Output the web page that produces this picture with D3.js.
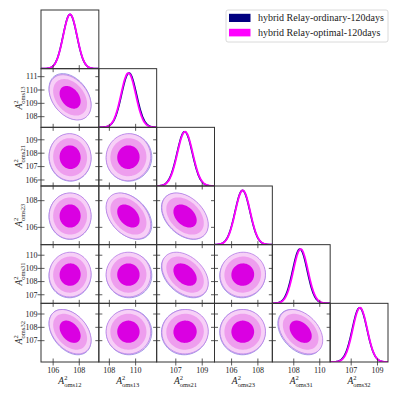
<!DOCTYPE html>
<html>
<head>
<meta charset="utf-8">
<script src="https://cdn.jsdelivr.net/npm/d3@7"></script>
<style>
  body { margin: 0; background: #fff; }
  text { font-family: "Liberation Serif", "Times New Roman", serif; fill: #222; }
</style>
</head>
<body>
<div id="chart"></div>
<script>
// parameter names (subscripts of A^2)
const names = ["oms12", "oms13", "oms21", "oms23", "oms31", "oms32"];
const series = ["hybrid Relay-ordinary-120days", "hybrid Relay-optimal-120days"];

// marginal peak positions / widths
const meanOrd = [107.29, 109.50, 107.67, 106.83, 108.47, 107.64];
const sdOrd   = [0.53, 0.57, 0.58, 0.57, 0.56, 0.56];
const meanOpt = [107.30, 109.45, 107.70, 106.85, 108.53, 107.67];
const sdOpt   = [0.53, 0.56, 0.58, 0.57, 0.56, 0.55];

// correlation of row var j with column var i (j > i)
const corr = [
  [],
  [-0.35],
  [-0.03, 0.02],
  [0.0, -0.38, -0.38],
  [0.02, 0.0, -0.38, 0.02],
  [-0.38, 0.0, 0.02, 0.0, -0.38]
];

const domains = [[105.07, 109.5], [107.2, 111.6], [105.55, 109.93],
                 [104.7, 109.1], [106.35, 110.8], [105.4, 109.8]];
const xTicks = [[106, 108], [108, 110], [107, 109], [106, 108], [108, 110], [107, 109]];
const yTicks = [[], [108, 109, 110, 111], [106, 107, 108, 109], [106, 108],
                [107, 108, 109, 110], [107, 108, 109]];

const levels = [3.03, 2.45, 1.52];  // 99%, 95%, 68% radii
const fills = ["#f7d0f7", "#ee9eee", "#da00e2"];
const lineCols = ["#000080", "#ff00ff"];

const W = 399, H = 399;
const gLeft = 41, gRight = 388, gTop = 10, gBottom = 362;
const n = names.length;
const cw = (gRight - gLeft) / n, ch = (gBottom - gTop) / n;

const svg = d3.select("#chart").append("svg")
  .attr("width", W).attr("height", H);

const xs = domains.map((d, i) => d3.scaleLinear().domain(d).range([gLeft + i * cw, gLeft + (i + 1) * cw]));
const ys = domains.map((d, j) => d3.scaleLinear().domain(d).range([gTop + (j + 1) * ch, gTop + j * ch]));

const defs = svg.append("defs");

function ellipsePts(mx, my, sx, sy, rho, r) {
  const pts = [];
  const k = Math.sqrt(1 - rho * rho);
  for (let a = 0; a < 360; a += 4) {
    const t = a * Math.PI / 180;
    pts.push([mx + r * sx * Math.cos(t), my + r * sy * (rho * Math.cos(t) + k * Math.sin(t))]);
  }
  return pts;
}

for (let j = 0; j < n; j++) {
  for (let i = 0; i <= j; i++) {
    const x0 = gLeft + i * cw, y0 = gTop + j * ch;
    const id = "clip" + i + "_" + j;
    defs.append("clipPath").attr("id", id)
      .append("rect").attr("x", x0).attr("y", y0).attr("width", cw).attr("height", ch);
    const g = svg.append("g");
    const body = g.append("g").attr("clip-path", "url(#" + id + ")");
    const x = xs[i];

    if (i === j) {
      // 1D marginal
      const y = d3.scaleLinear().domain([0, 1.08]).range([y0 + ch, y0]);
      const grid = d3.range(domains[i][0], domains[i][1] + 0.001, (domains[i][1] - domains[i][0]) / 120);
      const line = d3.line().x(d => x(d[0])).y(d => y(d[1])).curve(d3.curveBasis);
      [[meanOrd, sdOrd], [meanOpt, sdOpt]].forEach(([m, s], k) => {
        body.append("path")
          .attr("d", line(grid.map(v => [v, Math.exp(-0.5 * ((v - m[i]) / s[i]) ** 2)])))
          .attr("fill", "none")
          .attr("stroke", lineCols[k])
          .attr("stroke-width", k ? 1.8 : 1.6);
      });
    } else {
      const y = ys[j];
      const rho = corr[j][i];
      const line = d3.line().x(d => x(d[0])).y(d => y(d[1])).curve(d3.curveLinearClosed);
      // ordinary series: outer edge only peeks out
      body.append("path")
        .attr("d", line(ellipsePts(meanOrd[i], meanOrd[j], sdOrd[i], sdOrd[j], rho, levels[0])))
        .attr("fill", "#ecd2f6").attr("stroke", "#8c86e0").attr("stroke-width", 0.8);
      levels.forEach((r, k) => {
        body.append("path")
          .attr("d", line(ellipsePts(meanOpt[i], meanOpt[j], sdOpt[i], sdOpt[j], rho, r)))
          .attr("fill", fills[k])
          .attr("stroke", k === 0 ? "#b57be6" : "none")
          .attr("stroke-width", 0.8);
      });
    }

    // frame
    g.append("rect").attr("x", x0).attr("y", y0).attr("width", cw).attr("height", ch)
      .attr("fill", "none").attr("stroke", "#333").attr("stroke-width", 1);

    // ticks
    const tk = g.append("g").attr("stroke", "#333").attr("stroke-width", 0.8);
    xTicks[i].forEach(v => {
      tk.append("line").attr("x1", x(v)).attr("x2", x(v))
        .attr("y1", y0 + ch - 3.5).attr("y2", y0 + ch + (j === n - 1 ? 3.5 : 0));
      if (i !== j) tk.append("line").attr("x1", x(v)).attr("x2", x(v)).attr("y1", y0).attr("y2", y0 + 3.5);
    });
    if (i !== j) {
      yTicks[j].forEach(v => {
        const yy = ys[j](v);
        tk.append("line").attr("x1", x0 - (i === 0 ? 3.5 : 0)).attr("x2", x0 + 3.5).attr("y1", yy).attr("y2", yy);
        tk.append("line").attr("x1", x0 + cw - 3.5).attr("x2", x0 + cw).attr("y1", yy).attr("y2", yy);
      });
    }
  }
}

// tick labels
for (let i = 0; i < n; i++) {
  xTicks[i].forEach(v => {
    svg.append("text").attr("x", xs[i](v)).attr("y", gBottom + 10.5)
      .attr("text-anchor", "middle").attr("font-size", 8).text(v);
  });
}
for (let j = 1; j < n; j++) {
  yTicks[j].forEach(v => {
    svg.append("text").attr("x", 37.5).attr("y", ys[j](v) + 2.8)
      .attr("text-anchor", "end").attr("font-size", 8).text(v);
  });
}

// axis labels  A^2_{oms..}
function axLabel(sel, name) {
  sel.append("tspan").attr("font-style", "italic").attr("font-size", 9.5).text("A");
  sel.append("tspan").attr("font-size", 6.5).attr("dy", -4.5).text("2");
  sel.append("tspan").attr("font-size", 6.5).attr("dx", -3.3).attr("dy", 7).text(name);
}
for (let i = 0; i < n; i++) {
  const t = svg.append("text").attr("x", gLeft + (i + 0.5) * cw).attr("y", 384)
    .attr("text-anchor", "middle");
  axLabel(t, names[i]);
}
for (let j = 1; j < n; j++) {
  const t = svg.append("text").attr("text-anchor", "middle")
    .attr("transform", `translate(22,${gTop + (j + 0.5) * ch}) rotate(-90)`);
  axLabel(t, names[j]);
}

// legend
const lg = svg.append("g");
lg.append("rect").attr("x", 226).attr("y", 10).attr("width", 162).attr("height", 32)
  .attr("rx", 2).attr("fill", "#fff").attr("stroke", "#d0d0d0").attr("stroke-width", 0.8);
series.forEach((s, k) => {
  lg.append("rect").attr("x", 229).attr("y", k ? 28.8 : 13.8).attr("width", 21.5).attr("height", k ? 7.6 : 8.2)
    .attr("fill", lineCols[k]);
  lg.append("text").attr("x", 258).attr("y", k ? 35.5 : 21.3).attr("font-size", 10).text(s);
});
</script>
</body>
</html>
